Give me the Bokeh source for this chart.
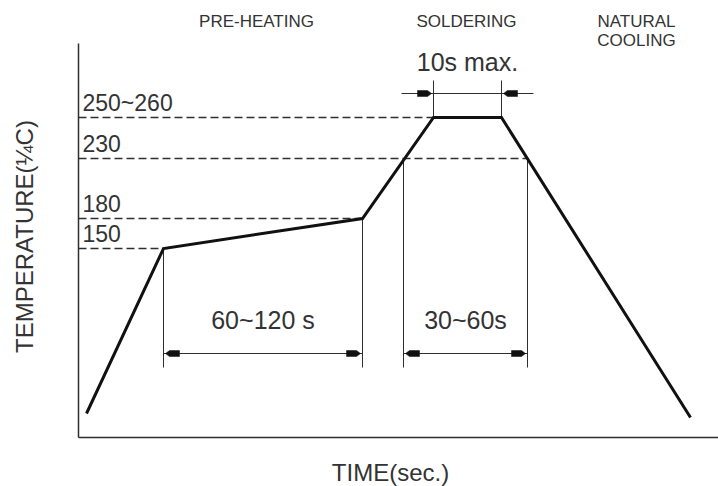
import math
from bokeh.plotting import figure
from bokeh.models import Range1d
from bokeh.embed import file_html
from bokeh.resources import INLINE
from bokeh.core.properties import value

FONT = "Liberation Sans"
INK = "#111111"
TXT = "#333333"
THIN = "#2e2e2e"

# ---- data (schematic drawing units) ----
profile_time = [8, 85, 284, 355, 423, 612]
profile_temp = [24, 189, 219, 320, 320, 20]

level_labels = ["150", "180", "230", "250~260"]
level_temp = [189, 219, 279, 320]
level_until = [85, 284, 449, 355]

phase_labels = ["PRE-HEATING", "SOLDERING", "NATURAL", "COOLING"]
phase_time = [178, 388, 558, 558]
phase_temp = [416, 416, 416, 397]

dim_labels = ["60~120 s", "30~60s", "10s max."]
dim_start = [85, 325, 355]
dim_end = [284, 449, 423]
dim_level = [84, 84, 344]
dim_outside = [False, False, True]

ext_time = [85, 284, 325, 449, 355, 423]
ext_from = [189, 219, 279, 279, 320, 320]
ext_to = [70, 70, 70, 70, 357, 357]

axis_top = 394
axis_right = 640
x_title = "TIME(sec.)"
y_title = "TEMPERATURE(¼C)"

W, H = 718, 486
p = figure(width=W, height=H, output_backend="svg", toolbar_location=None,
           x_range=Range1d(-78, W - 78), y_range=Range1d(437 - H, 437),
           min_border=0)
p.outline_line_color = None
p.grid.visible = False
p.axis.visible = False
p.background_fill_color = "white"
p.border_fill_color = "white"

# axes (drawn as rules)
p.segment(x0=[0, 0], y0=[0, 0], x1=[0, axis_right], y1=[axis_top, 0],
          line_color=THIN, line_width=1.5)
p.text(x=[axis_right / 2 - 8], y=[-35], text=[x_title], text_font=value(FONT),
       text_font_size="24px", text_color=TXT, text_align="center", text_baseline="middle")
p.text(x=[-54], y=[201], text=[y_title], angle=math.pi / 2, text_font=value(FONT),
       text_font_size="24px", text_color=TXT, text_align="center", text_baseline="middle")

# dashed reference levels
p.segment(x0=[0] * len(level_temp), y0=level_temp, x1=level_until, y1=level_temp,
          line_color=THIN, line_width=1.3, line_dash="8 4")
p.text(x=[4] * len(level_temp), y=[t + 15 for t in level_temp], text=level_labels,
       text_font=value(FONT), text_font_size="23px", text_color=TXT,
       text_baseline="middle", text_align="left")

# extension lines
p.segment(x0=ext_time, y0=ext_from, x1=ext_time, y1=ext_to,
          line_color=THIN, line_width=1)

# dimension lines, arrowheads, labels
seg_x0, seg_x1, seg_y = [], [], []
heads_x, heads_y = [], []
lab_x, lab_y = [], []
for s, e, y, out in zip(dim_start, dim_end, dim_level, dim_outside):
    if out:
        seg_x0.append(s - 32); seg_x1.append(e + 32)
        sides = [(s, -1), (e, 1)]
        lab_y.append(y + 32)
    else:
        seg_x0.append(s); seg_x1.append(e)
        sides = [(s, 1), (e, -1)]
        lab_y.append(y + 34)
    seg_y.append(y)
    lab_x.append((s + e) / 2)
    for xe, d in sides:
        heads_x.append([xe + d * 2, xe + d * 6, xe + d * 16, xe + d * 16, xe + d * 6])
        heads_y.append([y, y + 3, y + 3, y - 3, y - 3])

p.segment(x0=seg_x0, y0=seg_y, x1=seg_x1, y1=seg_y, line_color=THIN, line_width=1)
p.patches(xs=heads_x, ys=heads_y, fill_color=INK, line_color=INK, line_width=0.5)
p.text(x=lab_x, y=lab_y, text=dim_labels, text_font=value(FONT), text_font_size="25px",
       text_color=TXT, text_align="center", text_baseline="middle")

# profile
p.line(profile_time, profile_temp, line_color=INK, line_width=3, line_join="miter")

# phase labels
p.text(x=phase_time, y=phase_temp, text=phase_labels, text_font=value(FONT),
       text_font_size="17px", text_color=TXT, text_align="center", text_baseline="middle")

open("out.html", "w").write(file_html(p, INLINE))
